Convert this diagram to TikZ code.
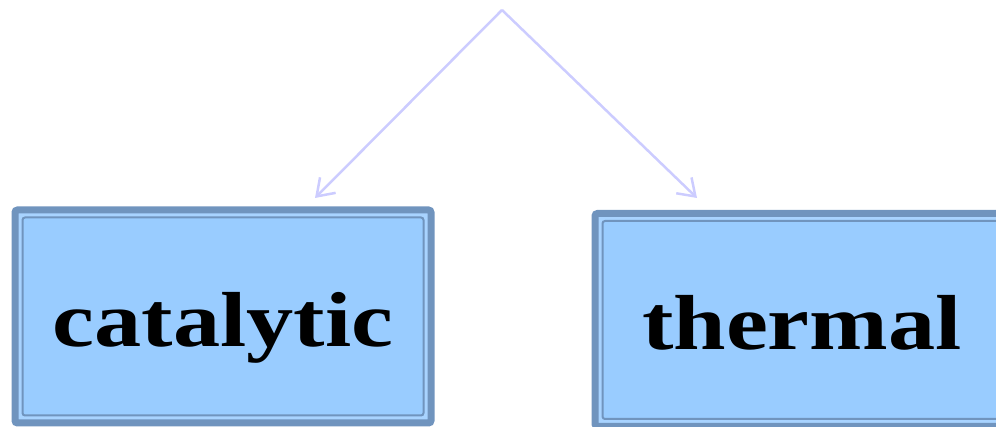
\documentclass[tikz,border=0pt]{standalone}
\usepackage{fontspec}
\setmainfont{Liberation Serif}
\usetikzlibrary{arrows.meta}

\definecolor{boxedge}{HTML}{7094BE}
\definecolor{boxfill}{HTML}{99CCFF}
\definecolor{boxgap}{HTML}{A8D3FF}
\definecolor{arrowcol}{HTML}{CCCCFF}

\tikzset{
  framebox/.style={
    draw=boxedge, line width=7pt, fill=boxgap, rounded corners=2.5pt,
    minimum width=416pt, minimum height=213pt, inner sep=0pt, outer sep=0pt,
    path picture={
      \draw[boxedge, line width=2pt, fill=boxfill]
        ([shift={(7.5pt,-7.5pt)}]path picture bounding box.north west)
        rectangle
        ([shift={(-7.5pt,7.5pt)}]path picture bounding box.south east);
    }
  },
  bigword/.style={anchor=base, inner sep=0pt,
    font=\fontsize{78}{80}\selectfont\bfseries},
  branch/.style={draw=arrowcol, line width=2.5pt,
    -{Straight Barb[length=16pt,width=22pt,line width=2.5pt]}}
}

\begin{document}
\begin{tikzpicture}[x=1pt,y=1pt]
  \useasboundingbox (0,0) rectangle (996,427);
  \clip (0,0) rectangle (996,427);

  % split point and the two arrow ends
  \coordinate (apex) at (502,417);
  \coordinate (lefttip) at (315,229);
  \coordinate (righttip) at (697,229);

  % the two category boxes
  \node[framebox] (catbox) at (223,110.5) {};
  \node[framebox] (thbox) at (803,107) {};

  \node[bigword] (catalytic) at (223,80) {\scalebox{1.21}[1]{catalytic}};
  \node[bigword] (thermal) at (802,77) {\scalebox{1.21}[1]{thermal}};

  % branching arrows
  \draw[branch] (apex) -- (lefttip);
  \draw[branch] (apex) -- (righttip);
\end{tikzpicture}
\end{document}
